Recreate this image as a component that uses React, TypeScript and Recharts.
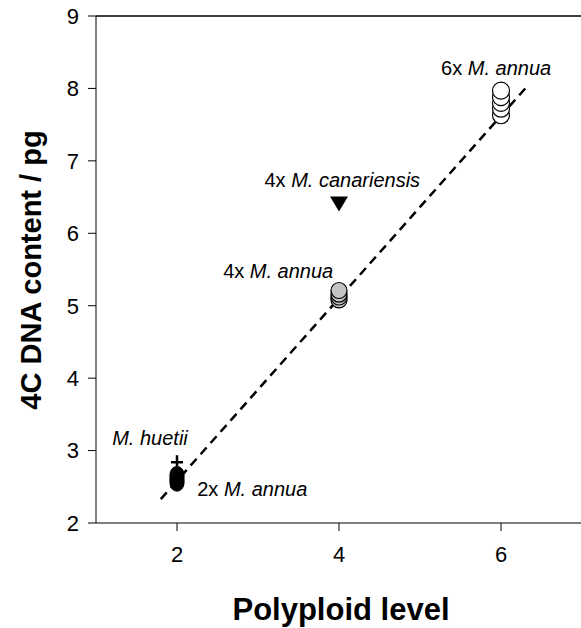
import React from 'react';
import { ScatterChart, Scatter, XAxis, YAxis, ReferenceLine, Label } from 'recharts';

// polyploid level (x) and 4C DNA content in pg (y)
const diploidX = [2, 2, 2, 2, 2];
const diploidY = [2.55, 2.58, 2.61, 2.64, 2.67];
const huetiiX = [2];
const huetiiY = [2.84];
const tetraX = [4, 4, 4, 4];
const tetraY = [5.08, 5.12, 5.16, 5.21];
const canariensisX = [4];
const canariensisY = [6.41];
const hexaX = [6, 6, 6, 6, 6];
const hexaY = [7.63, 7.72, 7.8, 7.88, 7.97];

// regression line end points
const fitX = [1.8, 6.3];
const fitY = [2.33, 8.0];

const xTicks = [2, 4, 6];
const yTicks = [2, 3, 4, 5, 6, 7, 8, 9];

// text labels beside the point groups
const labelX = [5.26, 3.08, 2.57, 1.2, 2.25];
const labelY = [8.19, 6.64, 5.38, 3.08, 2.37];
const labelPrefix = ['6x ', '4x ', '4x ', '', '2x '];
const labelSpecies = ['M. annua', 'M. canariensis', 'M. annua', 'M. huetii', 'M. annua'];

const FONT = '"Liberation Sans", Arial, sans-serif';

const zip = (xs: number[], ys: number[]) => xs.map((x, i) => ({ x, y: ys[i] }));

const labelData = labelX.map((x, i) => ({
  x,
  y: labelY[i],
  prefix: labelPrefix[i],
  species: labelSpecies[i],
}));

const circleShape = (fill: string, r: number) => (props: any) => (
  <circle cx={props.cx} cy={props.cy} r={r} fill={fill} stroke="#000" strokeWidth={1.2} />
);

const blackShape = (props: any) => (
  <ellipse cx={props.cx} cy={props.cy} rx={7} ry={8} fill="#000" stroke="#000" />
);

const plusShape = (props: any) => (
  <path
    d={`M${props.cx - 6},${props.cy}h12M${props.cx},${props.cy - 7}v14`}
    stroke="#000"
    strokeWidth={2.5}
    fill="none"
  />
);

const triangleShape = (props: any) => (
  <path
    d={`M${props.cx - 9},${props.cy - 7}L${props.cx + 9},${props.cy - 7}L${props.cx},${props.cy + 8}Z`}
    fill="#000"
  />
);

const textShape = (props: any) => {
  const p = props.payload;
  return (
    <text x={props.cx} y={props.cy} fontSize={20} fontFamily={FONT} fill="#000">
      {p.prefix}
      <tspan fontStyle="italic">{p.species}</tspan>
    </text>
  );
};

export default function App() {
  return (
    <div style={{ position: 'absolute', left: 0, top: 0, width: 581, height: 628, background: '#fff', overflow: 'hidden' }}>
      <ScatterChart width={582} height={628} margin={{ top: 16, right: 0, bottom: 0, left: 0 }}>
        <XAxis
          type="number"
          dataKey="x"
          domain={[1, 7]}
          ticks={xTicks}
          height={105}
          stroke="#000"
          tickSize={8}
          tickMargin={15}
          tick={{ fill: '#000', fontSize: 22, fontFamily: FONT }}
        >
          <Label
            content={() => (
              <text x={341} y={620} textAnchor="middle" fontSize={31} fontWeight="bold" fontFamily={FONT} fill="#000">
                Polyploid level
              </text>
            )}
          />
        </XAxis>
        <YAxis
          type="number"
          dataKey="y"
          domain={[2, 9]}
          ticks={yTicks}
          width={96}
          stroke="#000"
          tickSize={8}
          tickMargin={9}
          tick={{ fill: '#000', fontSize: 22, fontFamily: FONT }}
        >
          <Label
            content={() => (
              <text
                x={41}
                y={270}
                transform="rotate(-90 41 270)"
                textAnchor="middle"
                fontSize={29}
                fontWeight="bold"
                fontFamily={FONT}
                fill="#000"
              >
                4C DNA content / pg
              </text>
            )}
          />
        </YAxis>
        <ReferenceLine y={9} stroke="#000" strokeWidth={1.5} />
        <Scatter data={zip(huetiiX, huetiiY)} shape={plusShape} isAnimationActive={false} />
        <Scatter data={zip(diploidX, diploidY)} shape={blackShape} isAnimationActive={false} />
        <Scatter data={zip(canariensisX, canariensisY)} shape={triangleShape} isAnimationActive={false} />
        <Scatter data={zip(tetraX, tetraY)} shape={circleShape('#c4c4c4', 8)} isAnimationActive={false} />
        <Scatter data={zip(hexaX, hexaY)} shape={circleShape('#fff', 8.5)} isAnimationActive={false} />
        <ReferenceLine
          segment={zip(fitX, fitY)}
          stroke="#000"
          strokeWidth={2.5}
          strokeDasharray="9 6"
          ifOverflow="visible"
        />
        <Scatter data={labelData} shape={textShape} isAnimationActive={false} />
      </ScatterChart>
    </div>
  );
}
